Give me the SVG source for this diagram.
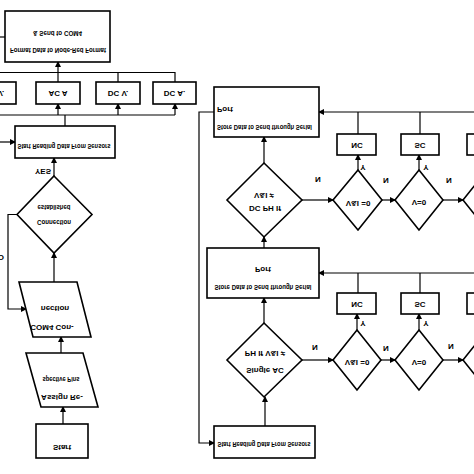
<svg xmlns="http://www.w3.org/2000/svg" width="474" height="474" viewBox="0 0 474 474">
<defs>
<marker id="ah" markerUnits="userSpaceOnUse" markerWidth="6" markerHeight="6" refX="5" refY="3" orient="auto">
<path d="M0,0 L6,3 L0,6 z" fill="#000"/>
</marker>
<style>
.box{fill:#fff;stroke:#000;stroke-width:1.6}
.ln{fill:none;stroke:#000;stroke-width:1.2}
.ar{fill:none;stroke:#000;stroke-width:1.2;marker-end:url(#ah)}
.t{font-family:"Liberation Sans",Arial,sans-serif;font-size:8px;font-weight:bold;text-anchor:middle;dominant-baseline:central;fill:#000}
.l{text-anchor:start}
</style>
</defs>
<rect width="474" height="474" fill="#fff"/>
<g id="connectors">
<path class="ln" d="M0,37 H5"/>
<path class="ln" d="M0,72.5 H175 V82"/>
<path class="ar" d="M58,72.5 V62"/>
<path class="ln" d="M58,72.5 V82"/>
<path class="ln" d="M118,72.5 V82"/>
<path class="ln" d="M0,115 H175"/>
<path class="ar" d="M58,115 V104"/>
<path class="ar" d="M118,115 V104"/>
<path class="ar" d="M175,115 V104"/>
<path class="ln" d="M65,115 V126"/>
<path class="ar" d="M0,142 H15"/>
<path class="ar" d="M54,176 V158"/>
<path class="ar" d="M17,214.5 H8 V309 H26"/>
<path class="ar" d="M54,282 V253"/>
<path class="ar" d="M61,353 V337"/>
<path class="ar" d="M63,424 V407"/>
<path class="ar" d="M214,112 H199 V443 H214"/>
<path class="ar" d="M264,163 V137"/>
<path class="ar" d="M264,248 V237"/>
<path class="ar" d="M264,323 V298"/>
<path class="ar" d="M265,426 V397"/>
<path class="ar" d="M302,200 H333"/>
<path class="ar" d="M382,200 H395"/>
<path class="ar" d="M443,200 H463"/>
<path class="ar" d="M358,170 V155"/>
<path class="ar" d="M419,170 V155"/>
<path class="ln" d="M358,134 V112"/>
<path class="ln" d="M420,134 V112"/>
<path class="ar" d="M474,112 H319"/>
<path class="ar" d="M302,360 H333"/>
<path class="ar" d="M381,360 H395"/>
<path class="ar" d="M443,360 H463"/>
<path class="ar" d="M357,330 V314"/>
<path class="ar" d="M419,330 V314"/>
<path class="ln" d="M358,293 V273"/>
<path class="ln" d="M420,293 V273"/>
<path class="ar" d="M474,273 H319"/>
<text class="t" transform="translate(43,171) scale(1,-1)" font-size="7">YES</text>
<text class="t" style="text-anchor:end" transform="translate(4,257) scale(1,-1)">NO</text>
<text class="t" transform="translate(363,167) scale(1,-1)">Y</text>
<text class="t" transform="translate(426,167) scale(1,-1)">Y</text>
<text class="t" transform="translate(363,323) scale(1,-1)">Y</text>
<text class="t" transform="translate(426,323) scale(1,-1)">Y</text>
<text class="t" transform="translate(318,179) scale(1,-1)">N</text>
<text class="t" transform="translate(386,180) scale(1,-1)">N</text>
<text class="t" transform="translate(449,180) scale(1,-1)">N</text>
<text class="t" transform="translate(315,347) scale(1,-1)">N</text>
<text class="t" transform="translate(386,348) scale(1,-1)">N</text>
<text class="t" transform="translate(451,346) scale(1,-1)">N</text>
</g>
<g id="format">
<rect class="box" x="5" y="11" width="105" height="51"/>
<text class="t" transform="translate(57.5,33) scale(1,-1)" textLength="49" lengthAdjust="spacingAndGlyphs">&amp; Send to COM4</text>
<text class="t" transform="translate(58,50) scale(1,-1)" textLength="96" lengthAdjust="spacingAndGlyphs">Format Data to Node-Red Format</text>
</g>
<g id="acv">
<rect class="box" x="-28" y="82" width="44" height="22"/>
<text class="t" transform="translate(-6,93) scale(1,-1)">AC V.</text>
</g>
<g id="aca">
<rect class="box" x="36" y="82" width="44" height="22"/>
<text class="t" transform="translate(58,93) scale(1,-1)">AC A</text>
</g>
<g id="dcv">
<rect class="box" x="96" y="82" width="44" height="22"/>
<text class="t" transform="translate(118,93) scale(1,-1)">DC V.</text>
</g>
<g id="dca">
<rect class="box" x="153" y="82" width="43" height="22"/>
<text class="t" transform="translate(174.5,93) scale(1,-1)">DC A.</text>
</g>
<g id="startReading1">
<rect class="box" x="15" y="126" width="100" height="32"/>
<text class="t" transform="translate(64,146) scale(1,-1)" textLength="93" lengthAdjust="spacingAndGlyphs">Start Reading Data From Sensors</text>
</g>
<g id="connection">
<polygon class="box" points="54,176 92,214.5 54,253 17,214.5"/>
<text class="t" transform="translate(54,207) scale(1,-1)" textLength="33" lengthAdjust="spacingAndGlyphs">established</text>
<text class="t" transform="translate(54,222) scale(1,-1)" textLength="34" lengthAdjust="spacingAndGlyphs">Connection</text>
</g>
<g id="com4">
<polygon class="box" points="19,282 77,282 91,337 33,337"/>
<text class="t" transform="translate(55,308) scale(1,-1)">nection</text>
<text class="t" transform="translate(52,327) scale(1,-1)">COM4 Con-</text>
</g>
<g id="assign">
<polygon class="box" points="26,353 83,353 98,407 41,407"/>
<text class="t" transform="translate(61,379) scale(1,-1)" textLength="37" lengthAdjust="spacingAndGlyphs">spective Pins</text>
<text class="t" transform="translate(62,397) scale(1,-1)">Assign Re-</text>
</g>
<g id="start">
<rect class="box" x="36" y="424" width="52" height="34"/>
<text class="t" transform="translate(62,447) scale(1,-1)">Start</text>
</g>
<g id="storeUpper">
<rect class="box" x="214" y="87" width="105" height="50"/>
<text class="t l" transform="translate(217,109) scale(1,-1)">Port</text>
<text class="t l" transform="translate(217,127) scale(1,-1)" textLength="95" lengthAdjust="spacingAndGlyphs">Store Data to Send through Serial</text>
</g>
<g id="dcph">
<polygon class="box" points="264,163 302,200 264,237 227,200"/>
<text class="t" transform="translate(264,195) scale(1,-1)">V&amp;I ≠</text>
<text class="t" transform="translate(265,208) scale(1,-1)">DC PH If</text>
</g>
<g id="vi0Upper">
<polygon class="box" points="358,170 382,200 358,230 333,200"/>
<text class="t" transform="translate(358,203) scale(1,-1)">V&amp;I =0</text>
</g>
<g id="v0Upper">
<polygon class="box" points="419,170 443,200 419,230 395,200"/>
<text class="t" transform="translate(419,202) scale(1,-1)">V=0</text>
</g>
<g id="thirdUpper">
<polygon class="box" points="487,170 511,200 487,230 463,200"/>
</g>
<g id="ncUpper">
<rect class="box" x="337" y="134" width="39" height="21"/>
<text class="t" transform="translate(357,145) scale(1,-1)">NC</text>
</g>
<g id="scUpper">
<rect class="box" x="401" y="134" width="38" height="21"/>
<text class="t" transform="translate(420,145) scale(1,-1)">SC</text>
</g>
<g id="boxUpper3">
<rect class="box" x="467" y="134" width="38" height="21"/>
</g>
<g id="storeLower">
<rect class="box" x="207" y="248" width="112" height="50"/>
<text class="t" transform="translate(263,269) scale(1,-1)">Port</text>
<text class="t" transform="translate(263,287) scale(1,-1)" textLength="97" lengthAdjust="spacingAndGlyphs">Store Data to Send through Serial</text>
</g>
<g id="singleAC">
<polygon class="box" points="264,323 302,360 264,397 227,360"/>
<text class="t" transform="translate(265,353) scale(1,-1)">PH If V&amp;I ≠</text>
<text class="t" transform="translate(265,370) scale(1,-1)">Single AC</text>
</g>
<g id="vi0Lower">
<polygon class="box" points="357,330 381,360 357,390 333,360"/>
<text class="t" transform="translate(357,362) scale(1,-1)">V&amp;I =0</text>
</g>
<g id="v0Lower">
<polygon class="box" points="419,330 443,360 419,390 395,360"/>
<text class="t" transform="translate(419,362) scale(1,-1)">V=0</text>
</g>
<g id="thirdLower">
<polygon class="box" points="487,330 511,360 487,390 463,360"/>
</g>
<g id="ncLower">
<rect class="box" x="337" y="293" width="39" height="21"/>
<text class="t" transform="translate(357,304) scale(1,-1)">NC</text>
</g>
<g id="scLower">
<rect class="box" x="401" y="293" width="38" height="21"/>
<text class="t" transform="translate(420,304) scale(1,-1)">SC</text>
</g>
<g id="boxLower3">
<rect class="box" x="467" y="293" width="38" height="21"/>
</g>
<g id="startReading2">
<rect class="box" x="214" y="426" width="101" height="32"/>
<text class="t" transform="translate(264,444) scale(1,-1)" textLength="93" lengthAdjust="spacingAndGlyphs">Start Reading Data From Sensors</text>
</g>
</svg>
